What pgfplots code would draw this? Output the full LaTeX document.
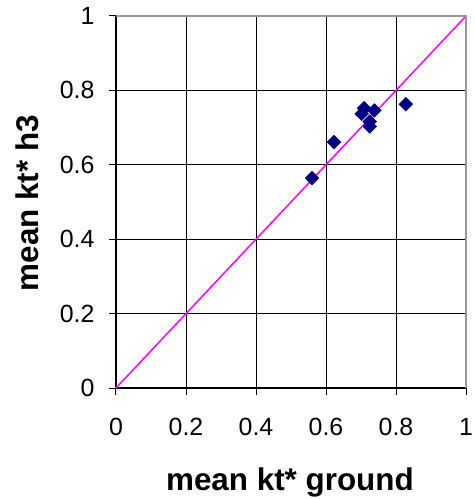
\documentclass[border=0pt]{standalone}
\usepackage{pgfplots}
\pgfplotsset{compat=1.18}
\usepackage{fontspec}
\setmainfont{Liberation Sans}
\definecolor{navy}{RGB}{0,0,128}
\definecolor{mag}{RGB}{255,0,255}
\begin{document}
\begin{tikzpicture}[x=1bp,y=1bp]
\clip (-116,-111) rectangle (359,388);
\begin{axis}[
  at={(0,0)}, anchor=south west,
  scale only axis, width=350bp, height=372bp,
  xmin=0, xmax=1, ymin=0, ymax=1,
  xtick={0,0.2,0.4,0.6,0.8,1}, ytick={0,0.2,0.4,0.6,0.8,1},
  xticklabels={0,0.2,0.4,0.6,0.8,1}, yticklabels={0,0.2,0.4,0.6,0.8,1},
  grid=major, grid style={black, line width=0.8bp},
  axis lines*=left, axis line style={black, line width=1.2bp},
  tick align=outside, major tick length=7bp,
  tick style={black, line width=1bp},
  ticklabel style={font=\fontsize{25}{25}\selectfont},
  /pgf/number format/assume math mode=true,
  xticklabel style={yshift=-20bp},
  yticklabel style={xshift=-11bp},
  xlabel={mean kt* ground},
  ylabel={mean kt* h3},
  label style={font=\fontsize{31.5}{31.5}\selectfont\bfseries},
  xlabel style={at={(axis description cs:0.497,-0.255)}, anchor=center},
  ylabel style={at={(axis description cs:-0.2543,0.497)}, anchor=center},
  clip=false,
]
\addplot[mag, line width=1.5bp, forget plot] coordinates {(0,0) (1,1)};
\addplot[only marks, mark=square*, mark size=4.9bp,
  mark options={rotate=45, fill=navy, draw=navy}] coordinates {
  (0.560,0.564) (0.623,0.661) (0.702,0.737) (0.709,0.752)
  (0.738,0.746) (0.725,0.716) (0.725,0.703) (0.828,0.763)
};
\draw[gray!80, line width=1.8bp] (rel axis cs:0,1) -- (rel axis cs:1,1) -- (rel axis cs:1,0);
\end{axis}
\end{tikzpicture}
\end{document}
